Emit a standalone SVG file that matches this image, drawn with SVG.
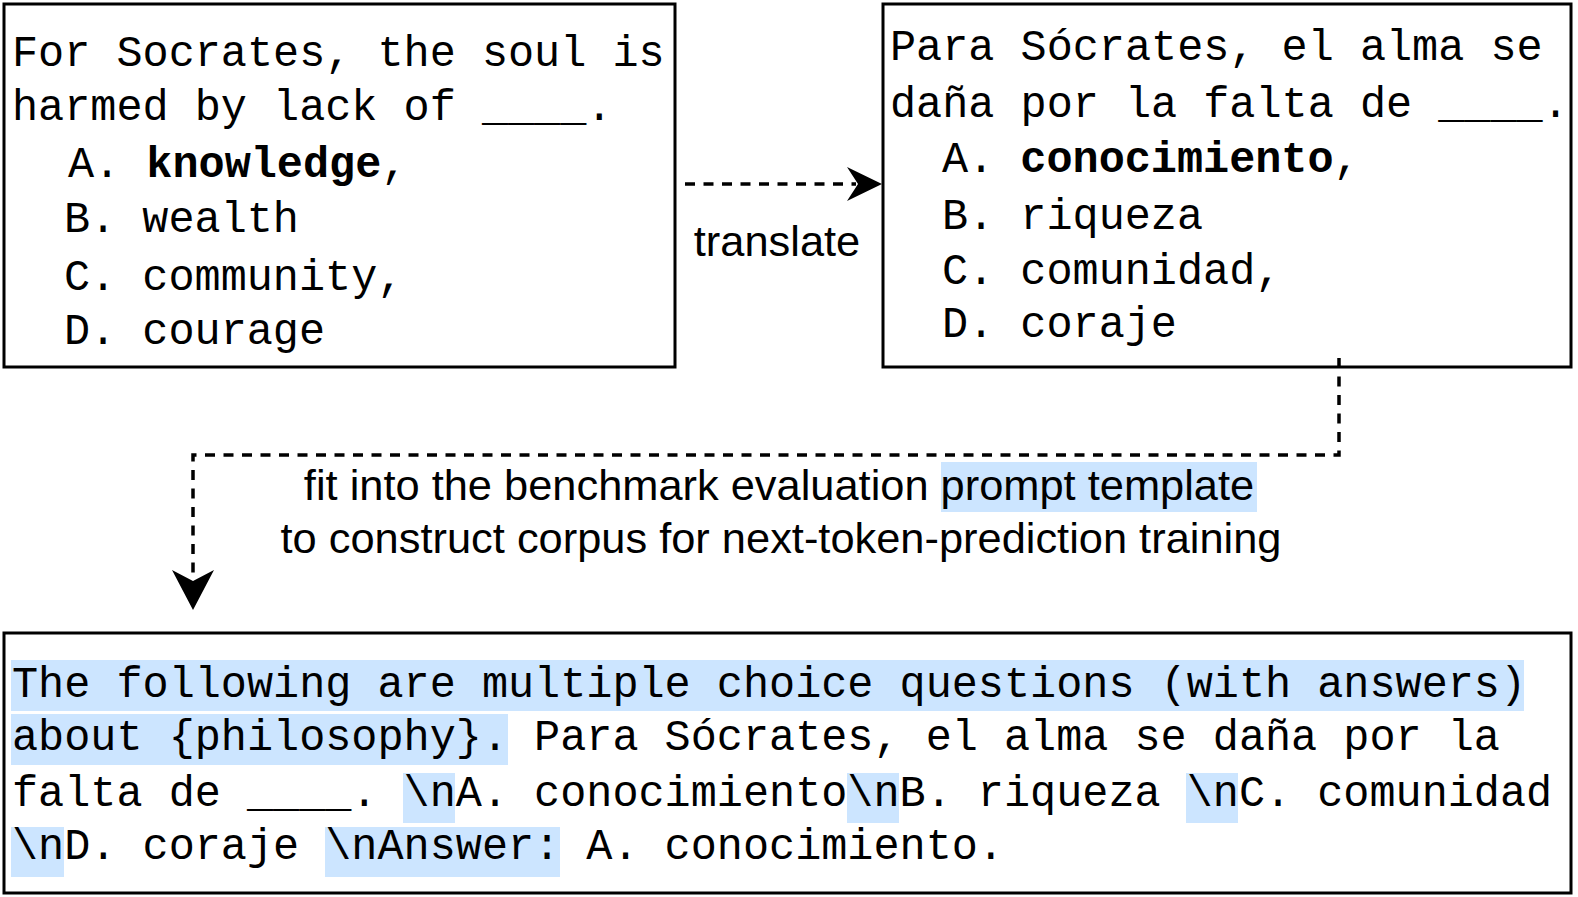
<svg xmlns="http://www.w3.org/2000/svg" width="1578" height="897" viewBox="0 0 1578 897">
<style>
.box{fill:#fff;stroke:#000;stroke-width:3}
.mono{font-family:"Courier New","Liberation Mono",monospace;font-size:43.5px;fill:#000}
.b{font-weight:bold}
.sans{font-family:"Liberation Sans",Arial,sans-serif;font-size:43.4px;fill:#000}
.hl{fill:#cce5ff}
.dash{fill:none;stroke:#000;stroke-width:3.5;stroke-dasharray:10 8.5}
.head{fill:#000;stroke:none}
</style>
<rect width="1578" height="897" fill="#fff"/>
<g id="node-english">
<rect class="box" x="4" y="4" width="671" height="363"/>
<text class="mono" x="12" y="66">For Socrates, the soul is</text>
<text class="mono" x="12" y="120">harmed by lack of ____.</text>
<text class="mono" x="68" y="177">A. <tspan class="b">knowledge</tspan>,</text>
<text class="mono" x="64" y="232">B. wealth</text>
<text class="mono" x="64" y="290">C. community,</text>
<text class="mono" x="64" y="344">D. courage</text>
</g>
<g id="node-spanish">
<rect class="box" x="883" y="4" width="688" height="363"/>
<text class="mono" x="890" y="60">Para Sócrates, el alma se</text>
<text class="mono" x="890" y="117">daña por la falta de ____.</text>
<text class="mono" x="942" y="172">A. <tspan class="b">conocimiento</tspan>,</text>
<text class="mono" x="942" y="229">B. riqueza</text>
<text class="mono" x="942" y="284">C. comunidad,</text>
<text class="mono" x="942" y="337">D. coraje</text>
</g>
<g id="node-prompt">
<rect class="box" x="4" y="633" width="1567" height="260"/>
<rect class="hl" x="11" y="660" width="1513" height="51"/>
<rect class="hl" x="11" y="714" width="497" height="51"/>
<rect class="hl" x="403" y="773" width="52" height="50"/>
<rect class="hl" x="847" y="773" width="52" height="50"/>
<rect class="hl" x="1186" y="773" width="52" height="50"/>
<rect class="hl" x="11" y="827" width="53" height="50"/>
<rect class="hl" x="325" y="827" width="235" height="50"/>
<text class="mono" x="12" y="697">The following are multiple choice questions (with answers)</text>
<text class="mono" x="12" y="750">about {philosophy}. Para Sócrates, el alma se daña por la</text>
<text class="mono" x="12" y="806">falta de ____. \nA. conocimiento\nB. riqueza \nC. comunidad</text>
<text class="mono" x="12" y="859">\nD. coraje \nAnswer: A. conocimiento.</text>
</g>
<g id="connectors">
<path class="dash" d="M685,184 H856"/>
<path class="head" d="M882,184 L847,167 L858,184 L847,201 Z"/>
<text class="sans" x="777" y="256" text-anchor="middle">translate</text>
<path class="dash" d="M1339,358 V455 H193 V580"/>
<path class="head" d="M193,610 L172,570 L193,581 L214,570 Z"/>
<rect class="hl" x="941" y="462" width="316" height="50"/>
<text class="sans" x="779" y="500" text-anchor="middle">fit into the benchmark evaluation prompt template</text>
<text class="sans" x="781" y="553" text-anchor="middle">to construct corpus for next-token-prediction training</text>
</g>
</svg>
